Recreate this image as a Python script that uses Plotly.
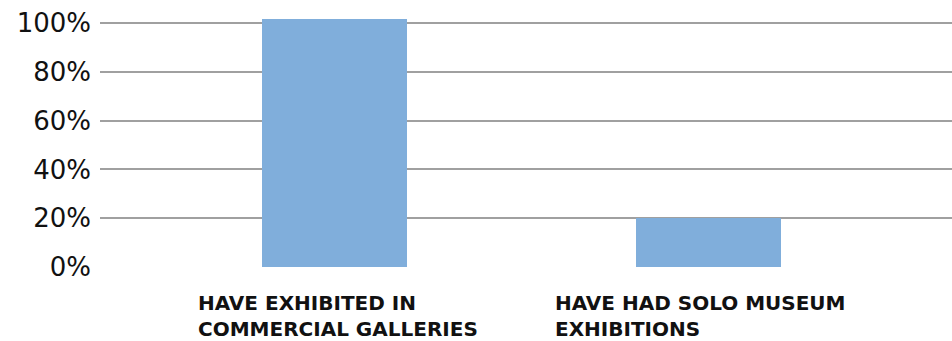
import plotly.graph_objects as go

categories = ["HAVE EXHIBITED IN<br>COMMERCIAL GALLERIES", "HAVE HAD SOLO MUSEUM<br>EXHIBITIONS"]
values = [101.6, 20]
tick_vals = [0, 20, 40, 60, 80, 100]
tick_text = ["0%", "20%", "40%", "60%", "80%", "100%"]

bar_color = "#80aedb"
font_family = "DejaVu Sans"
xpos = list(range(len(categories)))
label_xshift = [-138, -155]

fig = go.Figure()
fig.add_trace(go.Bar(
    x=xpos, y=values, width=0.388,
    marker=dict(color=bar_color, line=dict(width=0)),
    hoverinfo="skip",
))

for i, cat in enumerate(categories):
    fig.add_annotation(
        x=xpos[i], y=0, xref="x", yref="paper",
        text=cat, showarrow=False,
        xanchor="left", yanchor="top", align="left",
        xshift=label_xshift[i], yshift=-22,
        font=dict(family=font_family, size=20, color="#111111", weight="bold"),
    )

fig.update_layout(
    width=952, height=341,
    margin=dict(l=100, r=0, t=11, b=74),
    plot_bgcolor="white", paper_bgcolor="white",
    showlegend=False,
    bargap=0,
    xaxis=dict(range=[-0.626, 1.652], showticklabels=False, showgrid=False,
               zeroline=False, showline=False, ticks=""),
    yaxis=dict(range=[0, 105], tickvals=tick_vals, ticktext=tick_text,
               showgrid=True, gridcolor="#a0a0a0", gridwidth=1.5,
               zeroline=False, showline=False, ticks="",
               ticklabelstandoff=8,
               tickfont=dict(family=font_family, size=26, color="#111111")),
)

fig.write_html(
    "out.html",
    config={"displayModeBar": False},
    post_script="document.body.style.margin='0';document.body.style.overflow='hidden';",
)
